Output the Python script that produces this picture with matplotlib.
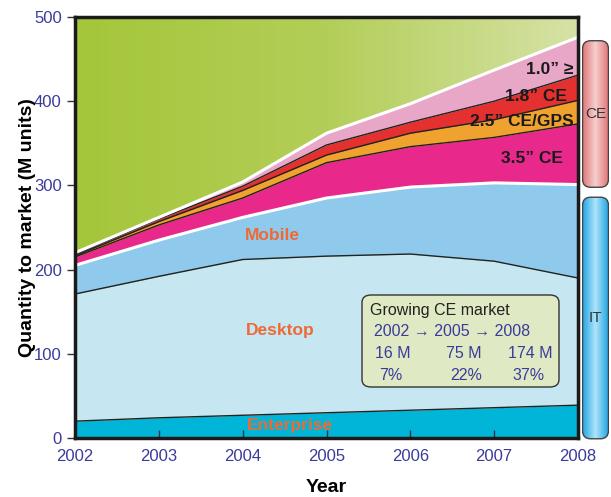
import numpy as np
import matplotlib.pyplot as plt
from matplotlib.colors import LinearSegmentedColormap
from matplotlib.patches import FancyBboxPatch

plt.rcParams['font.family'] = ['Liberation Sans', 'DejaVu Sans']

# Data: cumulative tops of each layer (M units)
years = [2002, 2003, 2004, 2005, 2006, 2007, 2008]
enterprise_top = [20, 24, 27, 30, 33, 36, 39]
desktop_top = [171, 192, 212, 216, 218.5, 210, 190]
mobile_top = [205, 235, 262, 285, 298, 303, 301]
ce35_top = [215, 253, 285, 327, 346, 357, 373]
ce25_top = [216.5, 257, 294, 336, 362, 378, 401]
ce18_top = [218, 260, 299, 348, 375, 400, 431]
total_top = [220, 262, 304, 362, 397, 437, 476]

box_lines = ["2002 \u2192 2005 \u2192 2008"]
ce_units = ["16 M", "75 M", "174 M"]
ce_share = ["7%", "22%", "37%"]

blue_txt = '#3b3b9b'
orange_txt = '#ee6a35'

fig = plt.figure(figsize=(6.11, 4.97), dpi=100)
ax = fig.add_axes([75 / 611, 59 / 497, 503 / 611, 421 / 497])

# green gradient background (area above total)
green = LinearSegmentedColormap.from_list('g', ['#a4c63a', '#b3ce58', '#d6e2a6'])
grad = np.linspace(0, 1, 256).reshape(1, -1)
ax.imshow(grad, cmap=green, extent=[2002, 2008, 0, 500], aspect='auto', zorder=0)

zero = [0] * len(years)
layers = [
    (zero, enterprise_top, '#00b5d8'),
    (enterprise_top, desktop_top, '#c6e6f1'),
    (desktop_top, mobile_top, '#8fcaec'),
    (mobile_top, ce35_top, '#e8298b'),
    (ce35_top, ce25_top, '#f0a22e'),
    (ce25_top, ce18_top, '#e4302f'),
    (ce18_top, total_top, '#e9a7c7'),
]
for lo, hi, c in layers:
    ax.fill_between(years, lo, hi, color=c, lw=0, zorder=1)

ax.plot(years, enterprise_top, color='#222222', lw=1, zorder=2)
ax.plot(years, desktop_top, color='#222222', lw=1, zorder=2)
ax.plot(years, mobile_top, color='white', lw=2.2, zorder=2)
ax.plot(years, ce35_top, color='#222222', lw=1, zorder=2)
ax.plot(years, ce25_top, color='#222222', lw=1, zorder=2)
ax.plot(years, ce18_top, color='#222222', lw=1, zorder=2)
ax.plot(years, total_top, color='white', lw=2.2, zorder=2)

ax.set_xlim(2002, 2008)
ax.set_ylim(0, 500)
ax.set_xticks(years)
ax.set_yticks([0, 100, 200, 300, 400, 500])
ax.tick_params(axis='x', direction='in', length=6, width=1, colors='#333333',
               labelcolor=blue_txt, labelsize=12, pad=8)
ax.tick_params(axis='y', direction='out', length=6, width=1, colors='#333333',
               labelcolor=blue_txt, labelsize=12)
for s in ax.spines.values():
    s.set_linewidth(2.5)
    s.set_color('#1a1a1a')
    s.set_zorder(5)

ax.set_xlabel('Year', fontsize=14, fontweight='bold')
ax.set_ylabel('Quantity to market (M units)', fontsize=14, fontweight='bold')
ax.xaxis.set_label_coords(0.5, -(487 - 438) / 421, transform=ax.transAxes)
ax.yaxis.set_label_coords(-(75 - 28) / 503, 0.5, transform=ax.transAxes)
ax.xaxis.label.set_va('center')
ax.yaxis.label.set_va('center')

# segment labels
ax.text(2004.36, 241, 'Mobile', color=orange_txt, fontsize=12.5, fontweight='bold',
        ha='center', va='center', zorder=4)
ax.text(2004.45, 128, 'Desktop', color=orange_txt, fontsize=12.5, fontweight='bold',
        ha='center', va='center', zorder=4)
ax.text(2004.56, 15, 'Enterprise', color=orange_txt, fontsize=12.5, fontweight='bold',
        ha='center', va='center', zorder=4)
ax.text(2007.45, 332, '3.5\u201d CE', color='#1a1a1a', fontsize=12.5, fontweight='bold',
        ha='center', va='center', zorder=4)
ax.text(2007.95, 376, '2.5\u201d CE/GPS', color='#1a1a1a', fontsize=12.5, fontweight='bold',
        ha='right', va='center', zorder=4)
ax.text(2007.5, 405, '1.8\u201d CE', color='#1a1a1a', fontsize=12.5, fontweight='bold',
        ha='center', va='center', zorder=4)
ax.text(2007.95, 438, '1.0\u201d \u2265', color='#1a1a1a', fontsize=12.5, fontweight='bold',
        ha='right', va='center', zorder=4)

# info box
box = FancyBboxPatch((362 / 611, (497 - 387) / 497), 197 / 611, 92 / 497,
                     boxstyle='round,pad=0,rounding_size=0.015', transform=fig.transFigure,
                     facecolor='#dfe9c4', edgecolor='#333333', lw=1, zorder=6)
fig.patches.append(box)
fx = lambda px: px / 611
fy = lambda py: (497 - py) / 497
fig.text(fx(370), fy(310), 'Growing CE market', fontsize=11.5, color='#222222', va='center', zorder=7)
fig.text(fx(374), fy(331), box_lines[0], fontsize=11.5, color=blue_txt, va='center', zorder=7)
for x0, u, p in zip([375, 446, 508], ce_units, ce_share):
    fig.text(fx(x0), fy(353), u, fontsize=11.5, color=blue_txt, va='center', zorder=7)
    fig.text(fx(x0 + 4), fy(375), p, fontsize=11.5, color=blue_txt, va='center', zorder=7)


# right side gradient bars
def side_bar(y_top, y_bot, edge_c, mid_c, label):
    bax = fig.add_axes([582 / 611, (497 - y_bot) / 497, 27 / 611, (y_bot - y_top) / 497])
    bax.set_axis_off()
    cm = LinearSegmentedColormap.from_list('b', [edge_c, mid_c, edge_c])
    im = bax.imshow(grad, cmap=cm, extent=[0, 1, 0, 1], aspect='auto')
    patch = FancyBboxPatch((0.02, 0.005), 0.96, 0.99, boxstyle='round,pad=0,rounding_size=0.3',
                           mutation_aspect=27 / (y_bot - y_top),
                           transform=bax.transAxes, facecolor='none', edgecolor='#444444', lw=1)
    bax.add_patch(patch)
    im.set_clip_path(patch)
    bax.set_xlim(0, 1)
    bax.set_ylim(0, 1)
    bax.text(0.5, 0.5, label, ha='center', va='center', fontsize=11, color='#333333')


side_bar(40, 188, '#df7373', '#f6cfcf', 'CE')
side_bar(196, 440, '#1aa3e2', '#b0e4fa', 'IT')

fig.savefig('out.png', dpi=100)
